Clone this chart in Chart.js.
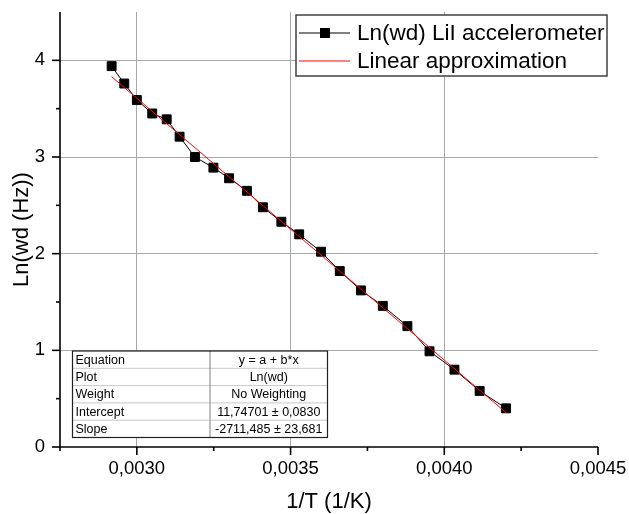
<!DOCTYPE html>
<html>
<head>
<meta charset="utf-8">
<script src="https://cdn.jsdelivr.net/npm/chart.js@4.4.1/dist/chart.umd.min.js"></script>
<style>
body { margin: 0; background: #fff; }
#wrap { width: 629px; height: 514px; }
</style>
</head>
<body>
<div id="wrap"><canvas id="grafico" width="629" height="514"></canvas></div>
<script>
// valores
const inversoT = [
    0.002918, 0.002959, 0.003000, 0.003050, 0.003097, 0.003139, 0.003189, 0.003249,
    0.003300, 0.003358, 0.003410, 0.003470, 0.003528, 0.003599, 0.003660, 0.003729,
    0.003800, 0.003880, 0.003952, 0.004033, 0.004115, 0.004201
];
const lnWd = [
    3.94, 3.76, 3.59, 3.45, 3.39, 3.21, 3.00, 2.89,
    2.78, 2.65, 2.48, 2.33, 2.20, 2.02, 1.82, 1.62,
    1.46, 1.25, 0.99, 0.80, 0.58, 0.40
];
const ajusteX = [0.002918, 0.004201];
const ajusteY = [3.83, 0.355];

const ticksX = [0.0030, 0.0035, 0.0040, 0.0045];
const menoresX = [0.00275, 0.00325, 0.00375, 0.00425];
const ticksY = [0, 1, 2, 3, 4];
const menoresY = [0.5, 1.5, 2.5, 3.5];

const legendaTextos = ["Ln(wd) LiI accelerometer", "Linear approximation"];
const tabelaLinhas = [
    ["Equation", "y = a + b*x"],
    ["Plot", "Ln(wd)"],
    ["Weight", "No Weighting"],
    ["Intercept", "11,74701 \u00b1 0,0830"],
    ["Slope", "-2711,485 \u00b1 23,681"]
];

const fonte = "'Liberation Sans', Arial, sans-serif";

function linha(ctx, x1, y1, x2, y2) {
    ctx.beginPath();
    ctx.moveTo(x1, y1);
    ctx.lineTo(x2, y2);
    ctx.stroke();
}

const eixosPlugin = {
    id: 'eixos',
    afterDraw(chart) {
        const { ctx, chartArea, scales } = chart;
        const esq = chartArea.left;
        const base = chartArea.bottom;
        ctx.save();
        ctx.strokeStyle = '#000';
        ctx.lineWidth = 1.6;
        ctx.beginPath();
        ctx.moveTo(esq, chartArea.top);
        ctx.lineTo(esq, base);
        ctx.lineTo(chartArea.right, base);
        ctx.stroke();

        ticksY.forEach(v => {
            const py = scales.y.getPixelForValue(v);
            linha(ctx, esq - 8, py, esq, py);
        });
        menoresY.forEach(v => {
            const py = scales.y.getPixelForValue(v);
            linha(ctx, esq - 4, py, esq, py);
        });
        ticksX.forEach(v => {
            const px = scales.x.getPixelForValue(v);
            linha(ctx, px, base, px, base + 8);
        });
        menoresX.forEach(v => {
            const px = scales.x.getPixelForValue(v);
            linha(ctx, px, base, px, base + 4);
        });
        ctx.restore();
    }
};

const legendaPlugin = {
    id: 'legendaCaixa',
    afterDraw(chart) {
        const { ctx } = chart;
        const x0 = 296, y0 = 15, w = 311, h = 61;
        ctx.save();
        ctx.fillStyle = '#fff';
        ctx.fillRect(x0, y0, w, h);
        ctx.strokeStyle = '#404040';
        ctx.lineWidth = 1.5;
        ctx.strokeRect(x0, y0, w, h);

        const linhaY = [33, 61];
        ctx.lineWidth = 1;
        ctx.strokeStyle = '#000';
        linha(ctx, 299, linhaY[0], 350, linhaY[0]);
        ctx.fillStyle = '#000';
        ctx.fillRect(320, linhaY[0] - 5, 10, 10);
        ctx.strokeStyle = '#ff0000';
        linha(ctx, 299, linhaY[1], 350, linhaY[1]);

        ctx.fillStyle = '#000';
        ctx.font = "22.5px " + fonte;
        ctx.textBaseline = 'middle';
        ctx.textAlign = 'left';
        legendaTextos.forEach((t, i) => ctx.fillText(t, 357, linhaY[i] + 1));
        ctx.restore();
    }
};

const tabelaPlugin = {
    id: 'tabelaAjuste',
    afterDraw(chart) {
        const { ctx } = chart;
        const x0 = 72.5, x1 = 210, x2 = 327.5;
        const y0 = 351, alt = 17.3;
        const total = alt * tabelaLinhas.length;
        ctx.save();
        ctx.fillStyle = '#fff';
        ctx.fillRect(x0, y0, x2 - x0, total);

        ctx.strokeStyle = '#c8c8c8';
        ctx.lineWidth = 1;
        for (let i = 1; i < tabelaLinhas.length; i++) {
            linha(ctx, x0, y0 + alt * i, x2, y0 + alt * i);
        }
        ctx.strokeStyle = '#808080';
        linha(ctx, x1, y0, x1, y0 + total);
        ctx.strokeStyle = '#202020';
        ctx.lineWidth = 1.2;
        ctx.strokeRect(x0, y0, x2 - x0, total);

        ctx.fillStyle = '#000';
        ctx.font = "12.5px " + fonte;
        ctx.textBaseline = 'middle';
        tabelaLinhas.forEach((l, i) => {
            const cy = y0 + alt * i + alt / 2 + 0.5;
            ctx.textAlign = 'left';
            ctx.fillText(l[0], x0 + 3, cy);
            ctx.textAlign = 'center';
            ctx.fillText(l[1], (x1 + x2) / 2, cy);
        });
        ctx.restore();
    }
};

const ctx = document.getElementById('grafico');

new Chart(ctx, {
    type: 'scatter',
    data: {
        datasets: [
            {
                label: legendaTextos[1],
                data: ajusteX.map((x, i) => ({ x: x, y: ajusteY[i] })),
                showLine: true,
                borderColor: '#ff0000',
                borderWidth: 1,
                pointRadius: 0,
                order: 0
            },
            {
                label: legendaTextos[0],
                data: inversoT.map((x, i) => ({ x: x, y: lnWd[i] })),
                showLine: true,
                borderColor: '#000',
                borderWidth: 1,
                backgroundColor: '#000',
                pointStyle: 'rect',
                pointRadius: 6.3,
                pointBorderWidth: 1,
                pointBorderColor: '#000',
                pointBackgroundColor: '#000',
                order: 1
            }
        ]
    },
    options: {
        responsive: false,
        animation: false,
        layout: { padding: { top: 12, right: 31, left: 0, bottom: 0 } },
        plugins: {
            legend: { display: false },
            tooltip: { enabled: false }
        },
        scales: {
            x: {
                type: 'linear',
                min: 0.00275,
                max: 0.0045,
                afterBuildTicks: scale => { scale.ticks = ticksX.map(v => ({ value: v })); },
                afterFit: scale => {
                    scale.height = 67;
                    scale.paddingLeft = 0;
                    scale.paddingRight = 0;
                },
                border: { display: false },
                grid: {
                    drawTicks: false,
                    color: c => (c.tick && c.tick.value === 0.0045) ? 'rgba(0,0,0,0)' : '#a8a8a8',
                    lineWidth: 1
                },
                ticks: {
                    padding: 11,
                    color: '#000',
                    maxRotation: 0,
                    font: { family: fonte, size: 18.5 },
                    callback: v => v.toFixed(4).replace('.', ',')
                },
                title: {
                    display: true,
                    text: '1/T (1/K)',
                    color: '#000',
                    padding: { top: 0, bottom: 0 },
                    font: { family: fonte, size: 22, lineHeight: 1.1 }
                }
            },
            y: {
                type: 'linear',
                min: 0,
                max: 4.5,
                afterBuildTicks: scale => { scale.ticks = ticksY.map(v => ({ value: v })); },
                afterFit: scale => {
                    scale.width = 60;
                    scale.paddingTop = 0;
                    scale.paddingBottom = 0;
                },
                border: { display: false },
                grid: {
                    drawTicks: false,
                    color: c => (c.tick && c.tick.value === 0) ? 'rgba(0,0,0,0)' : '#a8a8a8',
                    lineWidth: 1
                },
                ticks: {
                    padding: 15,
                    color: '#000',
                    font: { family: fonte, size: 18.5 },
                    callback: v => String(v)
                },
                title: {
                    display: true,
                    text: 'Ln(wd (Hz))',
                    color: '#000',
                    padding: { top: 9, bottom: 0 },
                    font: { family: fonte, size: 22 }
                }
            }
        }
    },
    plugins: [eixosPlugin, tabelaPlugin, legendaPlugin]
});
</script>
</body>
</html>
